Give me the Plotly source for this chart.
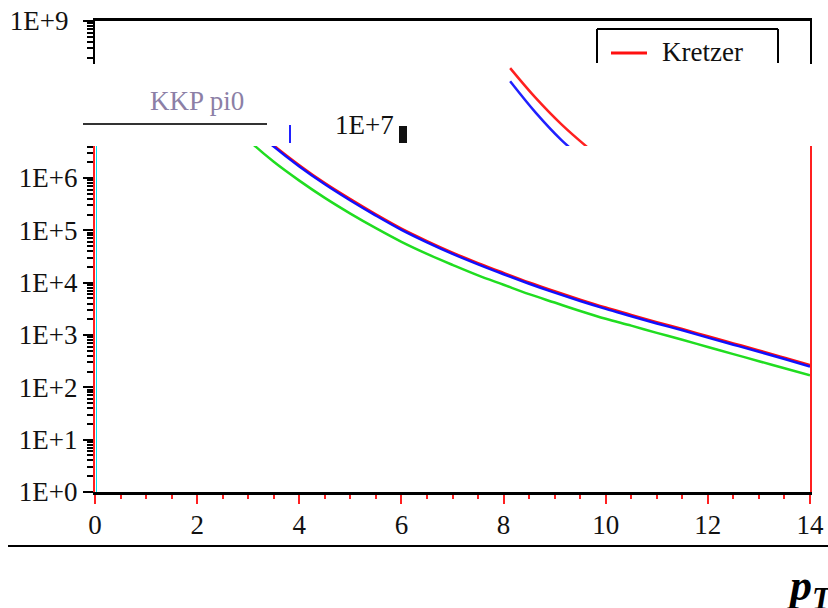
import plotly.graph_objects as go

# transverse momentum grid (GeV/c)
pt = [2, 2.5, 3, 3.5, 4, 4.5, 5, 5.5, 6, 6.5, 7, 7.5, 8, 8.5, 9, 9.5, 10,
      10.5, 11, 11.5, 12, 12.5, 13, 13.5, 14]

# cross sections for the three fragmentation-function sets
kretzer = [1.34e8, 3.6e7, 1.13e7, 4.2e6, 1.76e6, 8.0e5, 3.95e5, 2.02e5, 1.08e5, 6.25e4,
           3.76e4, 2.37e4, 1.54e4, 1.01e4, 6.85e3, 4.74e3, 3.35e3, 2.43e3, 1.76e3, 1.30e3,
           944, 692, 508, 368, 266]
kkp_pi0 = [1.26e8, 3.39e7, 1.07e7, 3.98e6, 1.66e6, 7.59e5, 3.72e5, 1.91e5, 1.02e5, 5.89e4,
           3.55e4, 2.24e4, 1.45e4, 9.55e3, 6.46e3, 4.47e3, 3.16e3, 2.29e3, 1.66e3, 1.23e3,
           891, 653, 479, 347, 251]
third_set = [7.08e7, 1.78e7, 5.37e6, 2.04e6, 8.91e5, 4.17e5, 2.09e5, 1.10e5, 6.03e4, 3.55e4,
             2.19e4, 1.38e4, 9.12e3, 6.03e3, 4.17e3, 2.88e3, 2.04e3, 1.51e3, 1.10e3, 813,
             589, 432, 316, 232, 170]

# axis labelling
x_ticks = [0, 2, 4, 6, 8, 10, 12, 14]
decades = list(range(10))
decade_labels = ["1E+%d" % k for k in decades]

W, H = 828, 608
FONT = "Liberation Serif, Times New Roman, Times, serif"
TXT = "#111111"


def px(x):
    return x / W


def py(y):
    return 1 - y / H


minor_logs = [m * 10 ** k for k in range(9) for m in range(2, 10)]

fig = go.Figure()

# main panel (lower part of the frame)
for ys, col in [(kretzer, "#ff1010"), (kkp_pi0, "#1010ff"), (third_set, "#20dd20")]:
    fig.add_trace(go.Scatter(x=pt, y=ys, mode="lines", line=dict(color=col, width=2.5, shape="spline"),
                             xaxis="x", yaxis="y", showlegend=False))

# offset strip across the upper band
for ys, col in [(kkp_pi0, "#ff2020"), (third_set, "#2020ff")]:
    fig.add_trace(go.Scatter(x=pt, y=ys, mode="lines", line=dict(color=col, width=2.5, shape="spline"),
                             xaxis="x2", yaxis="y2", showlegend=False))

# top panel (holds the 1E+9 end of the axis)
fig.add_trace(go.Scatter(x=pt, y=kretzer, mode="lines", line=dict(color="#ff1010", width=2.5),
                         xaxis="x3", yaxis="y3", showlegend=False))

x_dom = [px(95), px(810)]
y_main = [py(492), py(146)]
y_band = [py(146), py(64)]
y_top = [py(64), py(21)]
log_per_px = 1 / 52.33
main_top = (492 - 146) * log_per_px
band_top = (492 - 64) * log_per_px

tickfont = dict(family=FONT, size=27, color=TXT)

fig.update_layout(
    width=W, height=H, template="none",
    margin=dict(l=0, r=0, t=0, b=0),
    paper_bgcolor="white", plot_bgcolor="rgba(0,0,0,0)",
    font=dict(family=FONT),
    xaxis=dict(domain=x_dom, anchor="y", range=[0, 14], tickvals=x_ticks, ticks="outside",
               ticklen=9, tickwidth=2, tickcolor="#ff2020", showline=True, linecolor="black",
               linewidth=3, showgrid=False, zeroline=False, tickfont=tickfont, automargin=False,
               ticklabelstandoff=-2,
               minor=dict(dtick=0.5, ticks="outside", ticklen=4, tickwidth=2, tickcolor="#ff2020",
                          showgrid=False)),
    yaxis=dict(domain=y_main, anchor="x", type="log", range=[0, main_top],
               tickvals=[10 ** k for k in decades[:7]], ticktext=decade_labels[:7],
               ticks="outside", ticklen=10, tickwidth=2, tickcolor="black",
               showline=True, linecolor="#ff2020", linewidth=2, mirror=True,
               showgrid=False, zeroline=False, tickfont=tickfont, automargin=False,
               minor=dict(tickmode="array", tickvals=minor_logs, ticks="outside", ticklen=6,
                          tickwidth=1.5, tickcolor="black", showgrid=False)),
    xaxis2=dict(domain=[px(408), 1], anchor="y2", range=[0, (W - 408) / 51.07], visible=False),
    yaxis2=dict(domain=y_band, anchor="x2", type="log", range=[main_top, band_top], visible=False),
    xaxis3=dict(domain=x_dom, anchor="y3", range=[0, 14], side="top", showline=True,
                linecolor="black", linewidth=3, ticks="", showticklabels=False,
                showgrid=False, zeroline=False, automargin=False),
    yaxis3=dict(domain=y_top, anchor="x3", type="log", range=[band_top, 9],
                tickvals=[1e9], ticktext=[decade_labels[9]], ticks="outside", ticklen=10,
                tickwidth=2, tickcolor="black", showline=True, linecolor="black", linewidth=2,
                mirror=True, showgrid=False, zeroline=False, tickfont=tickfont,
                ticklabelstandoff=9, automargin=False,
                minor=dict(tickmode="array", tickvals=minor_logs, ticks="outside", ticklen=6,
                           tickwidth=1.5, tickcolor="black", showgrid=False)),
)

shapes = []
# cyan fringe beside the vertical frame lines
for xv in (0, 14):
    shapes.append(dict(type="line", xref="x", yref="y domain", xsizemode="pixel", xanchor=xv,
                       x0=1.5, x1=1.5, y0=0, y1=1, line=dict(color="#00e0f0", width=1)))
# legend frame (open at the bottom)
box = dict(color="black", width=2)
shapes += [
    dict(type="line", xref="paper", yref="paper", x0=px(597), x1=px(778), y0=py(29), y1=py(29), line=box),
    dict(type="line", xref="paper", yref="paper", x0=px(597), x1=px(597), y0=py(29), y1=py(63), line=box),
    dict(type="line", xref="paper", yref="paper", x0=px(778), x1=px(778), y0=py(29), y1=py(63), line=box),
    dict(type="line", xref="paper", yref="paper", x0=px(611), x1=px(647), y0=py(53), y1=py(53),
         line=dict(color="#ff1010", width=3)),
    # rule under the shifted legend entry
    dict(type="line", xref="paper", yref="paper", x0=px(83), x1=px(267), y0=py(124), y1=py(124),
         line=dict(color="#333333", width=2)),
    dict(type="line", xref="paper", yref="paper", x0=px(290), x1=px(290), y0=py(125), y1=py(143),
         line=dict(color="#2020ff", width=2)),
    dict(type="rect", xref="paper", yref="paper", x0=px(399), x1=px(407), y0=py(126), y1=py(143),
         line=dict(width=0), fillcolor="#111111"),
    # page rule under the axis
    dict(type="line", xref="paper", yref="paper", x0=px(8), x1=1, y0=py(546), y1=py(546),
         line=dict(color="black", width=2)),
]
fig.update_layout(shapes=shapes)

fig.add_annotation(x=px(660), y=py(52), xref="paper", yref="paper", text="Kretzer", showarrow=False,
                   xanchor="left", yanchor="middle", font=dict(family=FONT, size=27, color=TXT))
fig.add_annotation(x=px(197), y=py(101), xref="paper", yref="paper", text="KKP pi0", showarrow=False,
                   xanchor="center", yanchor="middle", font=dict(family=FONT, size=27, color="#8c7fa6"))
fig.add_annotation(x=px(396), y=py(125), xref="paper", yref="paper", text=decade_labels[7],
                   showarrow=False, xanchor="right", yanchor="middle",
                   font=dict(family=FONT, size=27, color=TXT))
fig.add_annotation(x=px(784), y=py(588), xref="paper", yref="paper",
                   text="<b><i>p</i></b><sub><b><i>T</i></b></sub>", showarrow=False,
                   xanchor="left", yanchor="middle", font=dict(family=FONT, size=44, color="black"))

fig.write_html("out.html")
